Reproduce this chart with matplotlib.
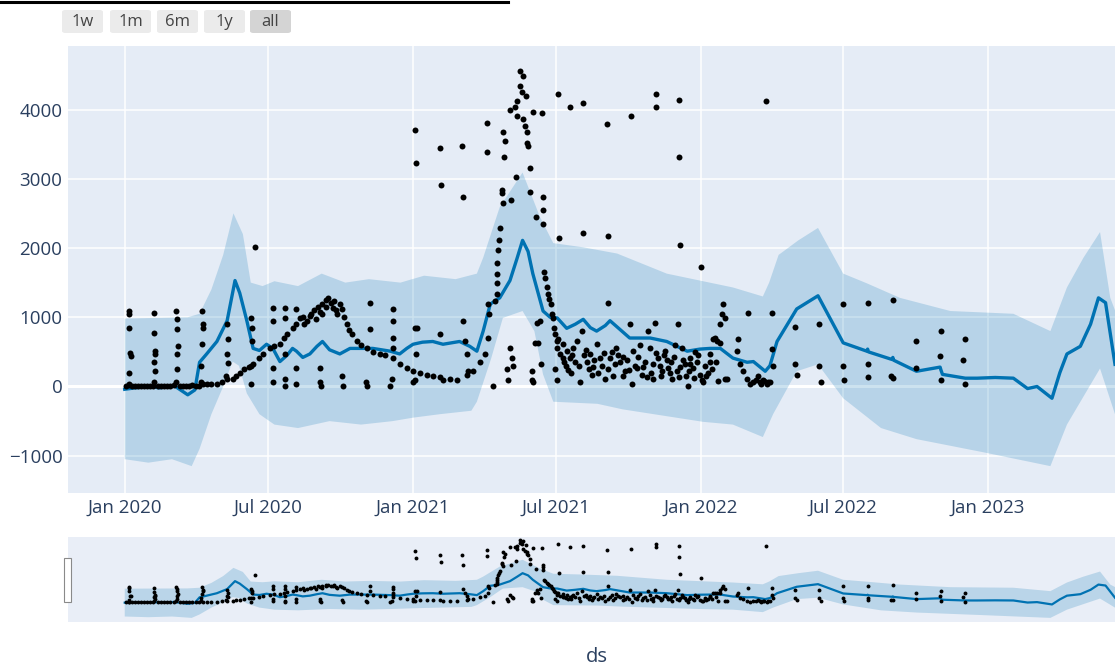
import numpy as np
import pandas as pd
import matplotlib
matplotlib.use('Agg')
import matplotlib.pyplot as plt
from matplotlib.patches import Rectangle, FancyBboxPatch
from matplotlib.lines import Line2D

plt.rcParams['font.family'] = ['Open Sans', 'DejaVu Sans']

start = pd.Timestamp('2020-01-01')

# observations (days since 2020-01-01, value)
obs_2020 = [
    (2, 0), (5, 20), (9, 0), (13, 10), (17, 0), (21, 0), (24, 10), (28, 0), (32, 0), (36, 10),
    (42, 0), (46, 0), (50, 10), (54, 0), (58, 0), (62, 20), (70, 0), (74, 10), (78, 0), (82, 0),
    (86, 20), (90, 10), (94, 0),
    (5, 1090), (6, 1050), (6, 840), (7, 480), (8, 440), (6, 190), (5, 40),
    (37, 1060), (37, 770), (38, 510), (39, 470), (37, 360), (38, 220), (37, 70),
    (65, 1090), (66, 980), (66, 830), (67, 580), (66, 470), (66, 250), (65, 70),
    (98, 1090), (99, 900), (99, 840), (98, 610), (97, 290), (97, 70),
    (99, 30), (105, 30), (110, 40), (117, 40), (124, 60), (130, 110), (137, 110), (141, 150),
    (146, 190), (152, 250), (158, 280), (163, 320), (171, 410), (176, 470), (184, 550),
    (190, 580), (197, 610), (202, 700), (206, 760), (213, 840),
    (130, 900), (131, 680), (130, 470), (131, 340), (129, 150),
    (160, 990), (161, 840), (161, 650), (160, 290), (160, 40), (166, 2010),
    (188, 1140), (188, 950), (188, 260), (188, 70),
    (203, 1140), (203, 990), (203, 470), (203, 110), (203, 0),
    (218, 1120), (218, 900), (217, 260), (218, 40),
    (222, 990), (226, 1000), (228, 900), (231, 950), (235, 1020), (237, 1050), (240, 1100),
    (243, 980), (245, 1150), (248, 1080), (250, 1050), (251, 1190), (255, 1250), (256, 1150),
    (258, 1280), (262, 1210), (264, 1140), (266, 1230), (268, 1100), (270, 1050), (273, 1190),
    (276, 1120), (278, 1000), (282, 900), (285, 820), (288, 760), (295, 650), (300, 600),
    (307, 550), (315, 500), (324, 470), (330, 450), (340, 410), (350, 330), (358, 260),
    (248, 260), (248, 70), (249, 0), (276, 150), (277, 0), (306, 70), (307, 0),
    (311, 1210), (311, 830), (337, 0), (339, 110),
    (340, 1120), (340, 950), (340, 700), (340, 550),
]

obs_2021a = [
    (366, 220), (368, 100), (375, 190), (384, 170), (391, 150), (400, 140), (404, 100),
    (413, 110), (422, 100), (434, 170), (442, 220), (451, 360), (457, 470), (461, 700),
    (366, 70), (368, 840), (370, 470), (371, 840), (400, 760), (429, 950), (432, 650),
    (434, 470), (436, 220), (467, 0),
    (368, 3710), (370, 3230), (400, 3450), (401, 2910), (428, 3470), (429, 2740),
    (460, 3810), (460, 3390), (480, 3670), (483, 3540), (481, 3320), (489, 4000),
    (495, 4030), (498, 4120), (502, 4560), (505, 4480), (502, 4340), (504, 4250),
    (509, 4190), (498, 3900), (505, 3860), (508, 3760), (511, 3670), (511, 3520),
    (512, 3470), (518, 3960), (530, 3950), (514, 3160), (479, 2840), (479, 2800),
    (480, 2650), (490, 2690), (497, 3030), (514, 2810), (531, 2740), (531, 2550),
    (522, 2450), (531, 2340), (476, 2290), (475, 2110), (474, 1970), (472, 1780),
    (472, 1630), (472, 1490), (472, 1340), (470, 1240), (461, 1190), (462, 1050),
    (489, 550), (491, 410), (493, 290), (485, 250), (486, 100), (523, 920), (521, 630),
    (517, 220), (518, 70), (527, 950), (525, 630), (528, 320), (517, 100),
    (532, 1650), (533, 1570), (536, 1430), (537, 1340), (538, 1270), (541, 1190),
    (542, 1050), (544, 990), (545, 840), (546, 760),
]

obs_2021b = [
    (550, 4220), (565, 4030), (582, 4100), (612, 3790), (643, 3900), (675, 4220),
    (675, 4030), (704, 4130), (704, 3320), (814, 4120),
    (551, 2140), (582, 2210), (613, 2180), (705, 2040), (732, 1730),
    (549, 650), (549, 550), (552, 470), (556, 410), (550, 680), (546, 250), (549, 100),
    (556, 610), (561, 510), (565, 410), (569, 550), (574, 650), (578, 70), (580, 800),
    (587, 360), (591, 470), (593, 170), (599, 610), (603, 410), (610, 110), (613, 1210),
    (616, 410), (622, 320), (629, 360), (635, 220), (641, 900), (644, 30), (645, 510),
    (650, 260), (657, 170), (664, 800), (667, 550), (671, 110), (673, 920), (677, 410),
    (682, 220), (686, 510), (690, 260), (695, 110), (701, 220), (702, 900), (707, 550),
    (711, 320), (715, 0), (718, 410), (721, 260), (726, 360), (730, 170), (733, 100),
    (743, 470), (747, 680), (752, 650), (756, 900), (758, 1050), (759, 1190), (762, 110),
    (560, 300), (566, 200), (572, 350), (583, 450), (589, 250), (596, 380), (606, 300),
    (619, 500), (626, 450), (632, 150), (638, 380), (648, 300), (654, 600), (660, 350),
    (668, 200), (679, 300), (684, 450), (693, 350), (698, 600), (705, 280), (712, 150),
    (724, 500), (736, 300), (740, 200), (750, 350),
    (558, 350), (563, 240), (568, 460), (576, 300), (585, 520), (594, 280), (601, 200),
    (608, 480), (614, 250), (620, 150), (624, 560), (633, 420), (640, 240), (652, 420),
    (658, 280), (663, 130), (670, 330), (675, 480), (681, 150), (688, 380), (692, 200),
    (697, 420), (703, 140), (709, 380), (716, 230), (722, 120), (728, 450), (738, 150),
    (745, 250), (753, 80),
    (762, 990), (749, 700), (756, 630), (777, 510), (779, 680), (781, 320), (785, 220),
    (790, 110), (791, 1060), (794, 30), (804, 150), (806, 70), (810, 100), (815, 40),
    (819, 70), (765, 110), (734, 70), (718, 320), (743, 360),
    (798, 60), (801, 90), (808, 40), (812, 80), (817, 60),
]

obs_2022 = [
    (822, 1060), (822, 540), (823, 290), (851, 860), (851, 320), (853, 160),
    (881, 900), (881, 290), (884, 60), (912, 1190), (912, 290), (913, 100),
    (943, 1210), (943, 320), (944, 130), (975, 1250), (975, 120), (973, 150),
    (1005, 650), (1005, 260), (1036, 800), (1035, 440), (1036, 90),
    (1066, 680), (1064, 380), (1067, 30),
]

# forecast (days since 2020-01-01)
yhat_day = [0, 13, 32, 44, 63, 80, 89, 95, 104, 117, 130, 140, 146, 155, 163, 171, 180, 188,
            197, 206, 213, 218, 226, 235, 244, 251, 260, 273, 286, 315, 337, 349, 358, 366,
            378, 391, 404, 425, 438, 447, 455, 464, 476, 489, 498, 505, 512, 518, 531, 540,
            549, 561, 572, 582, 591, 599, 610, 616, 629, 641, 667, 688, 714, 730, 743, 756,
            772, 790, 798, 813, 819, 828, 853, 880, 912, 942, 943, 944, 974, 975, 976, 1005,
            1035, 1036, 1038, 1067, 1082, 1105, 1128, 1146, 1158, 1177, 1187, 1196, 1213,
            1226, 1236, 1245, 1257]
yhat = [-40, -20, 0, -20, 10, -120, -50, 350, 470, 650, 950, 1530, 1350, 950, 550, 520, 610,
        550, 360, 450, 550, 510, 420, 470, 580, 650, 530, 470, 550, 550, 510, 470, 550, 610,
        640, 650, 610, 650, 580, 510, 800, 1190, 1280, 1530, 1850, 2110, 1950, 1630, 1090,
        1000, 990, 840, 900, 970, 850, 800, 880, 950, 820, 700, 700, 650, 510, 540, 550, 550,
        410, 350, 360, 220, 300, 650, 1120, 1310, 630, 510, 540, 500, 390, 420, 380, 220,
        280, 240, 175, 120, 120, 130, 120, -30, 0, -170, 200, 470, 580, 900, 1280, 1210, 320]

upper_day = [0, 40, 80, 95, 110, 125, 138, 150, 160, 175, 190, 220, 250, 280, 310, 350, 380,
             420, 447, 455, 476, 505, 527, 544, 582, 625, 688, 730, 772, 810, 818, 830, 855,
             880, 912, 942, 984, 1048, 1128, 1175, 1196, 1217, 1238, 1251, 1257]
upper = [980, 990, 1000, 1050, 1400, 1900, 2500, 2200, 1500, 1450, 1520, 1450, 1630, 1500,
         1550, 1500, 1600, 1550, 1630, 1860, 2590, 3090, 2450, 2070, 2010, 1920, 1630, 1530,
         1430, 1300, 1500, 1900, 2110, 2290, 1630, 1490, 1280, 1090, 1050, 800, 1430, 1860,
         2230, 1280, 1100]

lower_day = [0, 30, 60, 85, 95, 110, 125, 137, 145, 155, 171, 190, 220, 260, 300, 340, 366,
             400, 440, 447, 465, 480, 505, 520, 531, 544, 600, 632, 683, 734, 772, 810, 823,
             853, 880, 912, 960, 1005, 1090, 1175, 1196, 1238, 1257]
lower = [-1050, -1100, -1050, -1150, -900, -400, 0, 360, 300, -100, -400, -550, -600, -500,
         -550, -500, -450, -400, -350, -220, 400, 990, 1090, 800, 175, -220, -250, -330, -420,
         -510, -550, -730, -400, 220, 320, -170, -600, -760, -950, -1150, -550, 260, -400]

yticks = [-1000, 0, 1000, 2000, 3000, 4000]
xtick_dates = ['2020-01-01', '2020-07-01', '2021-01-01', '2021-07-01',
               '2022-01-01', '2022-07-01', '2023-01-01']
xtick_labels = ['Jan 2020', 'Jul 2020', 'Jan 2021', 'Jul 2021', 'Jan 2022', 'Jul 2022', 'Jan 2023']
buttons = ['1w', '1m', '6m', '1y', 'all']


def to_dates(days):
    return start + pd.to_timedelta(np.asarray(days), unit='D')


obs = obs_2020 + obs_2021a + obs_2021b + obs_2022
obs_x = to_dates([p[0] for p in obs])
obs_y = [p[1] for p in obs]
band_x = np.concatenate([to_dates(upper_day), to_dates(lower_day)[::-1]])
band_y = np.concatenate([upper, lower[::-1]])

W, H = 1115, 666
fig = plt.figure(figsize=(W / 100, H / 100), dpi=100)
fig.patch.set_facecolor('white')

bg = '#E5ECF6'
blue = '#0072B2'
tick_col = '#2a3f5f'
xmin, xmax = start - pd.Timedelta(days=72), start + pd.Timedelta(days=1257)

ax = fig.add_axes([68 / W, 1 - 493 / H, (W - 68) / W, (493 - 46) / H])
ax.set_facecolor(bg)
ax.fill(band_x, band_y, color=blue, alpha=0.2, lw=0, zorder=2)
ax.plot(to_dates(yhat_day), yhat, color=blue, lw=2.4, zorder=3)
ax.plot(obs_x, obs_y, 'o', color='black', ms=4.3, mew=0, zorder=4)
ax.set_xlim(xmin, xmax)
ax.set_ylim(-1538, 4917)
ax.set_yticks(yticks)
ax.set_xticks(pd.to_datetime(xtick_dates))
ax.set_xticklabels(xtick_labels)
ax.grid(True, color='white', lw=1.1, zorder=0)
ax.set_axisbelow(True)
ax.axhline(0, color='white', lw=2.2, zorder=1)
ax.tick_params(length=0, labelsize=13.5, labelcolor=tick_col, pad=4)
for s in ax.spines.values():
    s.set_visible(False)

# range slider
sl = fig.add_axes([68 / W, 1 - 622 / H, (W - 68) / W, 85 / H])
sl.set_facecolor('#e9eef7')
sl.fill(band_x, band_y, color=blue, alpha=0.2, lw=0)
sl.plot(to_dates(yhat_day), yhat, color=blue, lw=1.6)
sl.plot(obs_x, obs_y, 'o', color='black', ms=2.8, mew=0)
sl.set_xlim(xmin, xmax)
sl.set_ylim(-1450, 4750)
sl.set_xticks([])
sl.set_yticks([])
for s in sl.spines.values():
    s.set_visible(False)
fig.add_artist(Rectangle((64 / W, 1 - 602 / H), 7 / W, 44 / H, transform=fig.transFigure,
                         facecolor='white', edgecolor='#8a8a8a', lw=0.8))

fig.text(597 / W, 1 - 657 / H, 'ds', ha='center', va='center', fontsize=14.5, color=tick_col)

# range selector buttons
bx = [62, 110, 157, 204, 250]
for i, lab in enumerate(buttons):
    col = '#d4d4d4' if lab == 'all' else '#ebebeb'
    fig.add_artist(FancyBboxPatch((bx[i] / W, 1 - 33 / H), 41 / W, 23 / H,
                                  boxstyle='round,pad=0,rounding_size=0.003',
                                  transform=fig.transFigure, facecolor=col, edgecolor='none'))
    fig.text((bx[i] + 20.5) / W, 1 - 21.5 / H, lab, ha='center', va='center',
             fontsize=12, color='#444444')

# cropped line of text at the very top
fig.add_artist(Line2D([0, 508 / W], [1 - 1.5 / H, 1 - 1.5 / H], color='black', lw=2.2,
                      transform=fig.transFigure))

fig.savefig('out.png', dpi=100)
